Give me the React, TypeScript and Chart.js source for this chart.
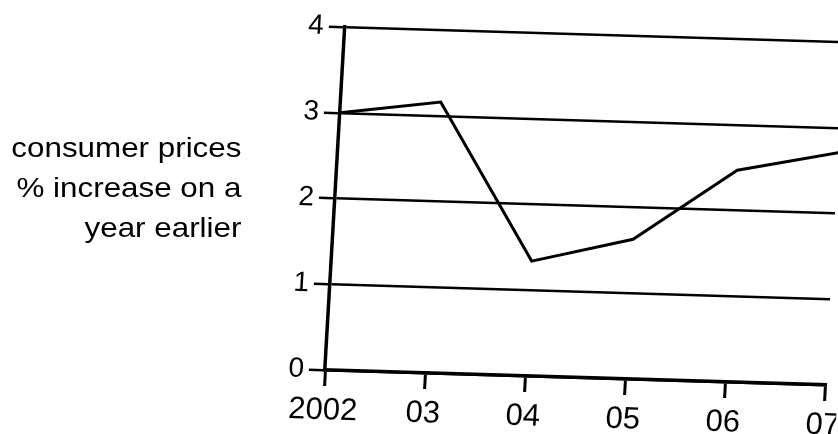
import React, { useEffect, useRef } from "react";
import { Chart, registerables } from "chart.js";

Chart.register(...registerables);

const years = ["2002", "03", "04", "05", "06", "07"];
const consumerPrices = [3.0, 3.16, 1.34, 1.63, 2.47, 2.71];
const yTicks = [0, 1, 2, 3, 4];
const sideLabel = ["consumer prices", "% increase on a", "year earlier"];

const FONT = "'Liberation Sans', Arial, Helvetica, sans-serif";

const skewPlugin = {
  id: "skew",
  beforeDraw(chart: any) {
    const ctx = chart.ctx;
    const { left, bottom } = chart.chartArea;
    ctx.save();
    ctx.translate(left, bottom);
    ctx.transform(1, 0.03, -0.058, 1, 0, 0);
    ctx.translate(-left, -bottom);
  },
  afterDraw(chart: any) {
    chart.ctx.restore();
  },
};

export default function App() {
  const ref = useRef<HTMLCanvasElement | null>(null);

  useEffect(() => {
    if (!ref.current) return;
    const chart = new Chart(ref.current, {
      type: "line",
      data: {
        labels: years,
        datasets: [
          {
            data: consumerPrices,
            borderColor: "#000",
            borderWidth: 3,
            pointRadius: 0,
            tension: 0,
            fill: false,
          },
        ],
      },
      options: {
        responsive: false,
        animation: false,
        layout: { padding: { left: 265, right: 13, top: 27, bottom: 0 } },
        plugins: { legend: { display: false }, tooltip: { enabled: false } },
        scales: {
          x: {
            type: "category",
            offset: false,
            grid: {
              display: true,
              drawOnChartArea: false,
              drawTicks: true,
              tickLength: 16,
              color: "#000",
              lineWidth: 3,
              offset: false,
            },
            border: { display: true, color: "#000", width: 3.5 },
            ticks: {
              color: "#000",
              font: { family: FONT, size: 31 },
              padding: 6,
              maxRotation: 0,
              minRotation: 0,
              autoSkip: false,
            },
            afterFit(scale: any) {
              scale.height = 64;
              scale.paddingLeft = 0;
              scale.paddingRight = 0;
            },
          },
          y: {
            min: 0,
            max: 4,
            afterBuildTicks(scale: any) {
              scale.ticks = yTicks.map((v) => ({ value: v }));
            },
            grid: {
              color: "#000",
              lineWidth: 2.5,
              tickLength: 16,
            },
            border: { display: true, color: "#000", width: 3.5 },
            ticks: {
              color: "#000",
              font: { family: FONT, size: 28 },
              padding: 5,
            },
            afterFit(scale: any) {
              scale.width = 60;
              scale.paddingTop = 0;
              scale.paddingBottom = 0;
            },
          },
        },
      },
      plugins: [skewPlugin],
    });
    return () => chart.destroy();
  }, []);

  return (
    <div
      style={{
        position: "absolute",
        left: 0,
        top: 0,
        width: 838,
        height: 434,
        background: "#fff",
        overflow: "hidden",
      }}
    >
      <canvas
        ref={ref}
        width={838}
        height={434}
        style={{ display: "block", position: "absolute", left: 0, top: 0 }}
      />
      <div
        style={{
          position: "absolute",
          right: 838 - 241,
          top: 128,
          fontFamily: FONT,
          fontSize: 28,
          lineHeight: "40px",
          textAlign: "right",
          color: "#000",
          whiteSpace: "nowrap",
          transform: "scaleX(1.12)",
          transformOrigin: "right top",
        }}
      >
        {sideLabel.map((t) => (
          <div key={t}>{t}</div>
        ))}
      </div>
    </div>
  );
}
